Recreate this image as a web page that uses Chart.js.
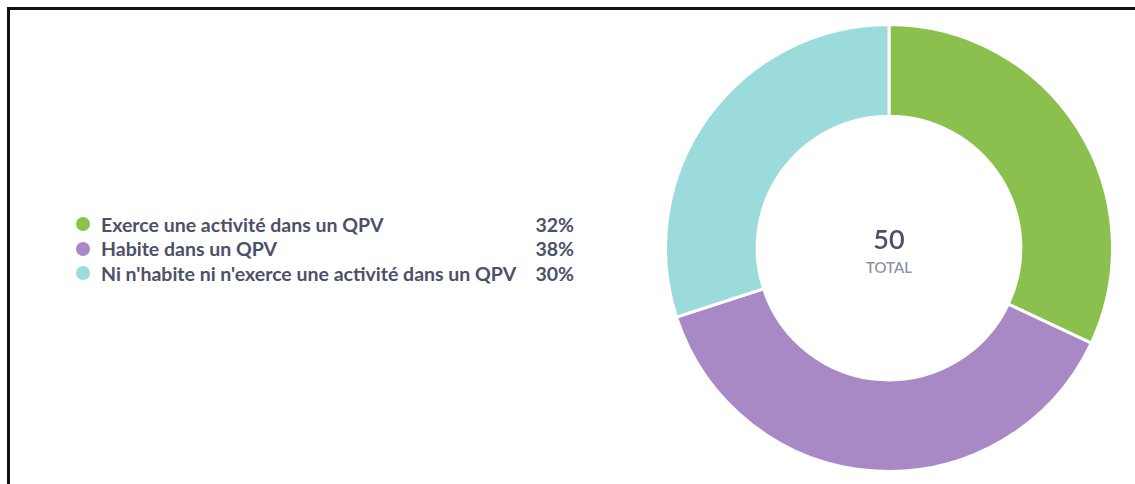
<!DOCTYPE html>
<html>
<head>
<meta charset="utf-8">
<script src="https://cdn.jsdelivr.net/npm/chart.js@4.4.1/dist/chart.umd.min.js"></script>
<style>
  html, body { margin: 0; padding: 0; background: #fff; }
  body { position: relative; width: 1135px; height: 484px; overflow: hidden; }
  .hline { position: absolute; left: 7px; top: 7px; width: 1128px; height: 3px; background: #111; }
  .vline { position: absolute; left: 7px; top: 7px; width: 3px; height: 477px; background: #111; }
  .legend {
    position: absolute; left: 76px; top: 212px;
    font-family: Lato, sans-serif; font-weight: 700; font-size: 19.5px; color: #4b5168;
  }
  .legend .row { display: flex; align-items: center; height: 24.5px; }
  .legend .dot { width: 14px; height: 14px; border-radius: 50%; margin-right: 11px; flex: none; }
  .legend .label { width: 423px; white-space: nowrap; }
  .legend .pct { width: 50px; text-align: right; }
  .chart-box { position: absolute; left: 664px; top: 23px; width: 450px; height: 450px; }
</style>
</head>
<body>
<div class="hline"></div>
<div class="vline"></div>
<div class="legend" id="legend"></div>
<div class="chart-box"><canvas id="chart" width="450" height="450"></canvas></div>
<script>
  // chart data
  const labels = [
    'Exerce une activité dans un QPV',
    'Habite dans un QPV',
    "Ni n'habite ni n'exerce une activité dans un QPV",
  ];
  const counts = [16, 19, 15];
  const colors = ['#8bc04f', '#a988c6', '#9cdbdb'];
  const totalLabel = 'TOTAL';

  const total = counts.reduce((a, b) => a + b, 0);

  // build the legend on the left
  const legendEl = document.getElementById('legend');
  labels.forEach((label, i) => {
    const row = document.createElement('div');
    row.className = 'row';
    const pct = Math.round((counts[i] / total) * 100) + '%';
    row.innerHTML =
      '<span class="dot" style="background:' + colors[i] + '"></span>' +
      '<span class="label">' + label + '</span>' +
      '<span class="pct">' + pct + '</span>';
    legendEl.appendChild(row);
  });

  // text in the hole of the doughnut
  const centerText = {
    id: 'centerText',
    afterDraw(chart) {
      const { ctx } = chart;
      const meta = chart.getDatasetMeta(0);
      const x = meta.data[0].x;
      const y = meta.data[0].y;
      ctx.save();
      ctx.textAlign = 'center';
      ctx.textBaseline = 'alphabetic';
      ctx.fillStyle = '#4b5168';
      ctx.font = '600 27px Lato, sans-serif';
      ctx.fillText(String(total), x, y + 1);
      ctx.fillStyle = '#8b93a3';
      ctx.font = '600 15px Lato, sans-serif';
      ctx.fillText(totalLabel, x, y + 25);
      ctx.restore();
    },
  };

  const ctx = document.getElementById('chart').getContext('2d');
  new Chart(ctx, {
    type: 'doughnut',
    data: {
      labels,
      datasets: [
        {
          data: counts,
          backgroundColor: colors,
          borderColor: '#ffffff',
          borderWidth: 3,
        },
      ],
    },
    options: {
      responsive: false,
      animation: false,
      cutout: '59%',
      layout: { padding: 0 },
      plugins: {
        legend: { display: false },
        tooltip: { enabled: false },
      },
    },
    plugins: [centerText],
  });
</script>
</body>
</html>
